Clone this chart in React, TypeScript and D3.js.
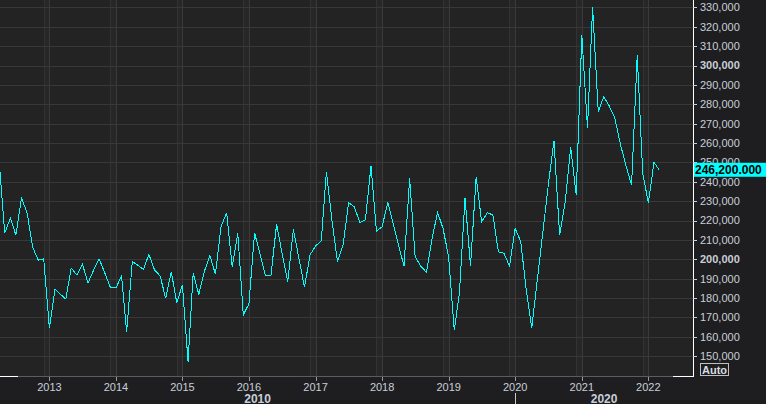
import React from 'react';
import * as d3 from 'd3';

// monthly series, thousands of units, first point Apr 2012
const FIRST_YEAR = 2012;
const FIRST_MONTH = 3;
const v2012 = [250, 213.6, 221.3, 212.5, 231.6, 223.9, 206.3, 199.6, 200.2];
const v2013 = [164.6, 184.7, 182.1, 179.5, 195.5, 191.9, 197.6, 187.8, 194.5, 200.2, 193, 185.7];
const v2014 = [185.2, 191.4, 162.6, 198.8, 197, 194.8, 202.6, 194.5, 191.4, 179.9, 193.6, 177.6];
const v2015 = [186.7, 147.2, 192.8, 181.9, 193.6, 201.9, 192.3, 216.8, 224, 196.2, 213.4, 171.3];
const v2016 = [177, 213.7, 203, 191.4, 191.9, 218.2, 203, 188.4, 215.5, 200.7, 185.6, 202.2];
const v2017 = [206.9, 209.6, 245.2, 220, 198.8, 207.4, 229.2, 227.1, 218.9, 220.3, 248.1, 214.6];
const v2018 = [216.8, 229.4, 219, 207.4, 196.5, 241.8, 201.3, 196.5, 193.3, 210, 224.3, 216];
const v2019 = [201.3, 163.5, 182.5, 231.8, 196.5, 242.6, 219.4, 224, 222.9, 203.9, 203.1, 196.5];
const v2020 = [216, 209, 185, 164.4, 189, 213.9, 238.4, 261.2, 212.5, 229.2, 257.7, 233.2];
const v2021 = [315.7, 267.6, 330.3, 276.2, 283.9, 279, 272.9, 259.2, 248, 238.3, 305.4, 244.4];
const v2022 = [229.2, 250, 246.2];

const yearTicks = [2013, 2014, 2015, 2016, 2017, 2018, 2019, 2020, 2021, 2022];
const decades = [2010, 2020];
const yTicks = [
  150000, 160000, 170000, 180000, 190000, 200000, 210000, 220000, 230000,
  240000, 250000, 260000, 270000, 280000, 290000, 300000, 310000, 320000, 330000,
];
const boldTicks = [200000, 300000];
const LAST_VALUE = 246200;

const W = 766;
const H = 404;
const PW = 693;
const PH = 376;
const FONT = '"Liberation Sans", Arial, sans-serif';

const allValues = [
  ...v2012, ...v2013, ...v2014, ...v2015, ...v2016, ...v2017,
  ...v2018, ...v2019, ...v2020, ...v2021, ...v2022,
];
const series: [Date, number][] = allValues.map((v, i) => [
  new Date(FIRST_YEAR, FIRST_MONTH + i, 1),
  v * 1000,
]);

const px = (v: number) => Math.round(v) + 0.5;

function App() {
  const x = d3
    .scaleTime()
    .domain([new Date(2012, 3, 5), new Date(2022, 8, 3)])
    .range([0, PW]);
  const y = d3.scaleLinear().domain([139800, 333800]).range([PH, 0]);

  const line = d3
    .line<[Date, number]>()
    .x((d) => x(d[0]))
    .y((d) => y(d[1]));

  const fmt = d3.format(',');
  const fmtLast = d3.format(',.3f');

  // decade label spans
  const decadeSpans = decades.map((d) => {
    const a = Math.max(0, x(new Date(d, 0, 1)));
    const b = Math.min(PW, x(new Date(d + 10, 0, 1)));
    return { d, cx: (a + b) / 2, start: x(new Date(d, 0, 1)) };
  });

  const lastY = y(LAST_VALUE);

  return (
    <svg width={W} height={H} style={{ display: 'block', background: '#1e1e20' }}>
      <style>{'body{margin:0;background:#1e1e20}'}</style>
      <defs>
        <clipPath id="plot">
          <rect x={0} y={0} width={PW} height={PH} />
        </clipPath>
      </defs>
      <rect x={0} y={0} width={PW} height={PH} fill="#222322" />

      {/* year bands + vertical grid */}
      <g shapeRendering="crispEdges">
        {yearTicks.map((yr) => {
          const x1 = x(new Date(yr - 1, 11, 1));
          const x2 = x(new Date(yr, 0, 1));
          return (
            <g key={`band${yr}`}>
              <rect x={x1} y={0} width={x2 - x1} height={PH} fill="#262726" />
              <line x1={px(x1)} x2={px(x1)} y1={0} y2={PH} stroke="#313231" />
              <line x1={px(x2)} x2={px(x2)} y1={0} y2={PH} stroke="#393a39" />
            </g>
          );
        })}
        {yTicks.map((t) => (
          <line key={`h${t}`} x1={0} x2={PW} y1={px(y(t))} y2={px(y(t))} stroke="#383838" />
        ))}
      </g>

      <path
        d={line(series) || ''}
        fill="none"
        stroke="#00ffff"
        strokeWidth={1}
        shapeRendering="crispEdges"
        clipPath="url(#plot)"
      />

      {/* axes frame */}
      <g shapeRendering="crispEdges">
        <line x1={0} x2={PW} y1={PH + 0.5} y2={PH + 0.5} stroke="#5c5c5c" />
        <line x1={0} x2={18} y1={PH + 0.5} y2={PH + 0.5} stroke="#ffffff" />
        <line x1={673} x2={PW + 1} y1={PH + 0.5} y2={PH + 0.5} stroke="#ffffff" />
        <line x1={PW + 0.5} x2={PW + 0.5} y1={0} y2={PH + 1} stroke="#ffffff" />
        {yTicks.map((t) => (
          <line key={`yt${t}`} x1={PW} x2={PW + 4} y1={px(y(t))} y2={px(y(t))} stroke="#c9ced8" />
        ))}
        {yearTicks.map((yr) => {
          const xx = px(x(new Date(yr, 0, 1)));
          return <line key={`xt${yr}`} x1={xx} x2={xx} y1={PH + 1} y2={PH + 5} stroke="#9a9a9a" />;
        })}
        {decadeSpans
          .filter((s) => s.start > 0)
          .map((s) => (
            <line key={`ds${s.d}`} x1={px(s.start)} x2={px(s.start)} y1={393} y2={H} stroke="#c8c8c8" />
          ))}
      </g>

      {/* y labels */}
      <g fontFamily={FONT} fontSize={11} fill="#c9ced8">
        {yTicks.map((t) => (
          <text
            key={`yl${t}`}
            x={700}
            y={y(t)}
            dy="0.35em"
            fontWeight={boldTicks.includes(t) ? 'bold' : 'normal'}
          >
            {fmt(t)}
          </text>
        ))}
      </g>

      {/* x labels */}
      <g fontFamily={FONT} fontSize={11} fill="#c9ced8" textAnchor="middle">
        {yearTicks.map((yr) => (
          <text key={`xl${yr}`} x={x(new Date(yr, 0, 1))} y={391}>
            {yr}
          </text>
        ))}
        {decadeSpans.map((s) => (
          <text key={`dl${s.d}`} x={s.cx} y={403} fontWeight="bold" fontSize={12}>
            {s.d}
          </text>
        ))}
      </g>

      {/* last value tag */}
      <rect x={PW + 1} y={lastY - 7} width={W - PW - 1} height={14} fill="#00ffff" />
      <text
        x={695}
        y={lastY}
        dy="0.36em"
        fontFamily={FONT}
        fontSize={12}
        fontWeight="bold"
        fill="#000000"
      >
        {fmtLast(LAST_VALUE)}
      </text>

      {/* Auto button */}
      <rect x={700.5} y={363.5} width={28} height={12} fill="none" stroke="#c0c0c0" shapeRendering="crispEdges" />
      <text x={714.5} y={373.5} textAnchor="middle" fontFamily={FONT} fontSize={11} fontWeight="bold" fill="#d8dce4">
        Auto
      </text>
    </svg>
  );
}

export default App;
